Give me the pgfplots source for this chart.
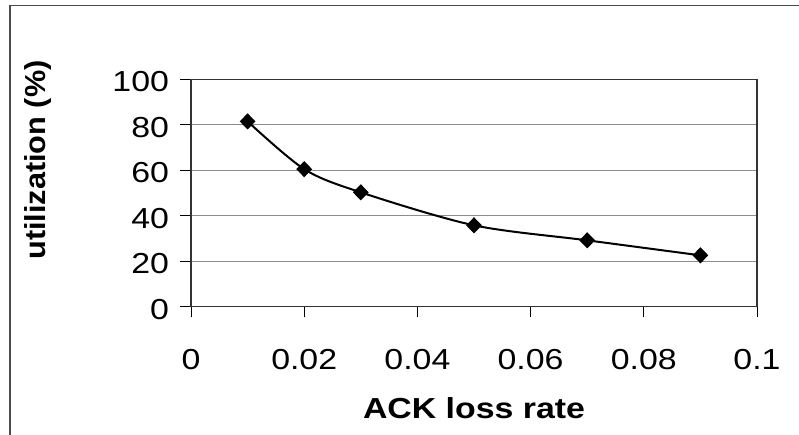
\documentclass[border=0pt]{standalone}
\usepackage{fontspec}
\setmainfont{Liberation Sans}
\newfontfamily\chartfont[FakeStretch=1.17]{Liberation Sans}
\newfontfamily\ylabfont[FakeStretch=1.06]{Liberation Sans}
\usepackage{pgfplots}
\pgfplotsset{compat=1.18}
\begin{document}
\begin{tikzpicture}
\useasboundingbox (0,0) rectangle (599.25pt,326.25pt);
\draw[line width=0.8pt, black!70] (7.5pt,0) -- (7.5pt,322.1pt) -- (599.25pt,322.1pt);
\begin{axis}[
  at={(143.25pt,96.2pt)}, anchor=south west,
  scale only axis, width=424.5pt, height=170.55pt,
  xmin=0, xmax=0.1, ymin=0, ymax=100,
  xtick={0,0.02,0.04,0.06,0.08,0.1},
  xticklabels={0,0.02,0.04,0.06,0.08,0.1},
  ytick={0,20,40,60,80,100},
  scaled x ticks=false,
  ymajorgrids, grid style={black!45, line width=0.75pt},
  axis line style={black!80, line width=0.8pt},
  tick style={black, line width=0.75pt},
  tick align=outside, major tick length=8pt,
  xtick pos=bottom, ytick pos=left,
  /pgf/number format/assume math mode=true,
  tick label style={font=\chartfont\fontsize{21.7}{26}\selectfont},
  yticklabel style={xshift=-5pt, yshift=-2pt},
  xticklabel style={yshift=-20.5pt},
  xlabel={ACK loss rate},
  ylabel={utilization (\%)},
  xlabel style={font=\chartfont\bfseries\fontsize{21.7}{26}\selectfont, at={(rel axis cs:0.5,-0.4455)}, anchor=center},
  ylabel style={font=\ylabfont\bfseries\fontsize{21.7}{26}\selectfont, at={(rel axis cs:-0.2703,0.645)}, anchor=center},
]
\addplot[black, line width=1.5pt, smooth, mark=diamond*, mark size=5pt, mark options={xscale=1.3, solid}]
  coordinates {(0.01,81.5)(0.02,60.5)(0.03,50.3)(0.05,35.8)(0.07,29.2)(0.09,22.6)};
\end{axis}
\end{tikzpicture}
\end{document}
